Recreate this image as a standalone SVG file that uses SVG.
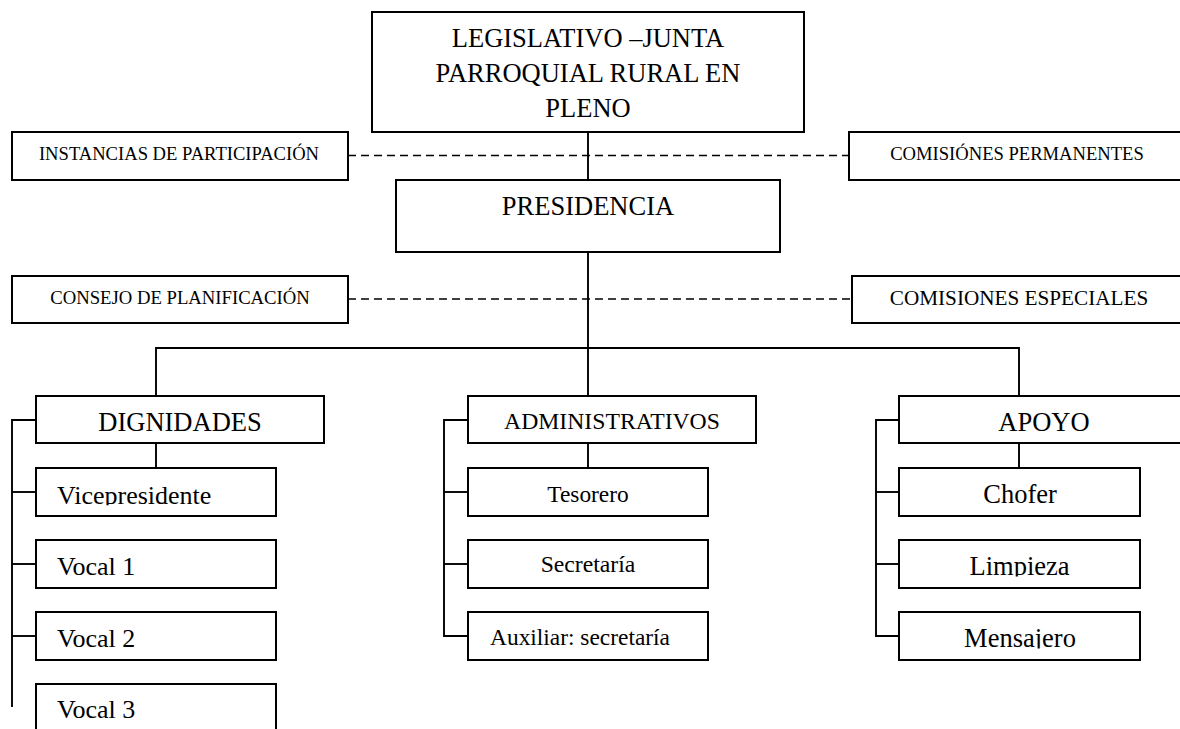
<svg xmlns="http://www.w3.org/2000/svg" width="1180" height="729" viewBox="0 0 1180 729">
<style>
  .box { fill: #ffffff; stroke: #000000; stroke-width: 2; }
  .ln { fill: none; stroke: #000000; stroke-width: 1.9; }
  .dash { fill: none; stroke: #000000; stroke-width: 1.7; stroke-dasharray: 8 5; }
  text { font-family: "Liberation Serif", "Times New Roman", serif; fill: #000000; }
  .big { font-size: 26.5px; text-anchor: middle; }
  .lbl { font-size: 26px; }
  .adm { font-size: 23.7px; text-anchor: middle; }
  .sm { font-size: 18.6px; text-anchor: middle; }
</style>
<defs>
  <clipPath id="clipVice" clipPathUnits="userSpaceOnUse"><rect x="36" y="468" width="240" height="37.3"/></clipPath>
  <clipPath id="clipLimp" clipPathUnits="userSpaceOnUse"><rect x="899" y="540" width="241" height="36.5"/></clipPath>
  <clipPath id="clipMens" clipPathUnits="userSpaceOnUse"><rect x="899" y="612" width="241" height="36.5"/></clipPath>
</defs>
<rect x="0" y="0" width="1180" height="729" fill="#ffffff"/>

<g id="connectors">
  <line class="ln" x1="588" y1="132" x2="588" y2="180"/>
  <line class="ln" x1="588" y1="252" x2="588" y2="396"/>
  <line class="dash" x1="348" y1="155.5" x2="849" y2="155.5"/>
  <line class="dash" x1="348" y1="299" x2="852" y2="299"/>
  <polyline class="ln" points="156,396 156,348 1019,348 1019,396"/>
  <line class="ln" x1="156" y1="443" x2="156" y2="468"/>
  <line class="ln" x1="588" y1="443" x2="588" y2="468"/>
  <line class="ln" x1="1019" y1="443" x2="1019" y2="468"/>
  <polyline class="ln" points="36,420 12,420 12,707"/>
  <line class="ln" x1="12" y1="492" x2="36" y2="492"/>
  <line class="ln" x1="12" y1="564" x2="36" y2="564"/>
  <line class="ln" x1="12" y1="636" x2="36" y2="636"/>
  <polyline class="ln" points="468,420 444,420 444,636 468,636"/>
  <line class="ln" x1="444" y1="492" x2="468" y2="492"/>
  <line class="ln" x1="444" y1="564" x2="468" y2="564"/>
  <polyline class="ln" points="899,420 876,420 876,636 899,636"/>
  <line class="ln" x1="876" y1="492" x2="899" y2="492"/>
  <line class="ln" x1="876" y1="564" x2="899" y2="564"/>
</g>

<g id="legislativo">
  <rect class="box" x="372" y="12" width="432" height="120"/>
  <text class="big" x="588" y="47.3">LEGISLATIVO –JUNTA</text>
  <text class="big" x="588" y="82">PARROQUIAL RURAL EN</text>
  <text class="big" x="588" y="117">PLENO</text>
</g>
<g id="instancias">
  <rect class="box" x="12" y="132" width="336" height="48"/>
  <text class="sm" x="179" y="160">INSTANCIAS DE PARTICIPACIÓN</text>
</g>
<g id="comisiones-permanentes">
  <rect class="box" x="849" y="132" width="340" height="48"/>
  <text class="sm" x="1017" y="160">COMISIÓNES PERMANENTES</text>
</g>
<g id="presidencia">
  <rect class="box" x="396" y="180" width="384" height="72"/>
  <text class="big" x="588" y="215">PRESIDENCIA</text>
</g>
<g id="consejo">
  <rect class="box" x="12" y="276" width="336" height="47"/>
  <text class="sm" x="180" y="304" style="font-size:18.7px">CONSEJO DE PLANIFICACIÓN</text>
</g>
<g id="comisiones-especiales">
  <rect class="box" x="852" y="276" width="337" height="47"/>
  <text class="sm" x="1019" y="305" style="font-size:21.2px">COMISIONES ESPECIALES</text>
</g>

<g id="dignidades">
  <rect class="box" x="36" y="396" width="288" height="47"/>
  <text class="big" x="180" y="431">DIGNIDADES</text>
</g>
<g id="vicepresidente">
  <rect class="box" x="36" y="468" width="240" height="48"/>
  <text class="lbl" x="57" y="503.5" clip-path="url(#clipVice)">Vicepresidente</text>
</g>
<g id="vocal1">
  <rect class="box" x="36" y="540" width="240" height="48"/>
  <text class="lbl" x="57" y="575">Vocal 1</text>
</g>
<g id="vocal2">
  <rect class="box" x="36" y="612" width="240" height="48"/>
  <text class="lbl" x="57" y="647">Vocal 2</text>
</g>
<g id="vocal3">
  <rect class="box" x="36" y="684" width="240" height="60"/>
  <text class="lbl" x="57" y="718">Vocal 3</text>
</g>

<g id="administrativos">
  <rect class="box" x="468" y="396" width="288" height="47"/>
  <text class="adm" x="612" y="429">ADMINISTRATIVOS</text>
</g>
<g id="tesorero">
  <rect class="box" x="468" y="468" width="240" height="48"/>
  <text class="adm" x="588" y="502" style="font-size:23.4px">Tesorero</text>
</g>
<g id="secretaria">
  <rect class="box" x="468" y="540" width="240" height="48"/>
  <text class="adm" x="588" y="572">Secretaría</text>
</g>
<g id="auxiliar">
  <rect class="box" x="468" y="612" width="240" height="48"/>
  <text class="adm" x="580" y="645" style="font-size:23.4px">Auxiliar: secretaría</text>
</g>

<g id="apoyo">
  <rect class="box" x="899" y="396" width="290" height="47"/>
  <text class="big" x="1044" y="431">APOYO</text>
</g>
<g id="chofer">
  <rect class="box" x="899" y="468" width="241" height="48"/>
  <text class="big" x="1020" y="503.3">Chofer</text>
</g>
<g id="limpieza">
  <rect class="box" x="899" y="540" width="241" height="48"/>
  <text class="big" x="1019.5" y="575" clip-path="url(#clipLimp)">Limpieza</text>
</g>
<g id="mensajero">
  <rect class="box" x="899" y="612" width="241" height="48"/>
  <text class="big" x="1020" y="646.7" clip-path="url(#clipMens)">Mensajero</text>
</g>
</svg>
